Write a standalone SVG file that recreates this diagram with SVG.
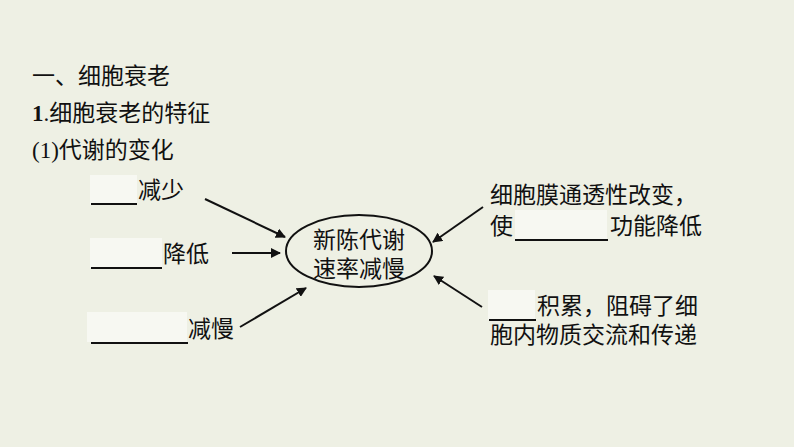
<svg xmlns="http://www.w3.org/2000/svg" width="794" height="447" viewBox="0 0 794 447">
<style>
text{font-family:"Liberation Serif","Noto Sans CJK SC",serif;font-size:23px;fill:#111}
.b{fill:#f7f8f2}
.u{stroke:#111;stroke-width:2}
.c{stroke:#111;stroke-width:2;fill:none;marker-end:url(#ah)}
</style>
<defs><marker id="ah" viewBox="0 0 10 10" refX="9" refY="5" markerWidth="5" markerHeight="5" orient="auto"><path d="M0,0L10,5L0,10z" fill="#111"/></marker></defs>
<rect width="794" height="447" fill="#eef0e4"/>
<g id="headings">
<text x="32" y="84">一、细胞衰老</text>
<text x="32" y="121"><tspan font-weight="bold">1</tspan>.细胞衰老的特征</text>
<text x="32" y="158">(1)代谢的变化</text>
</g>
<g id="n1"><rect class="b" x="90" y="175" width="47" height="30"/><line class="u" x1="91" y1="204" x2="137" y2="204"/><text x="138" y="198">减少</text></g>
<g id="n2"><rect class="b" x="90" y="238" width="72" height="30"/><line class="u" x1="91" y1="268" x2="162" y2="268"/><text x="163" y="262">降低</text></g>
<g id="n3"><rect class="b" x="87" y="312" width="100" height="30"/><line class="u" x1="91" y1="343" x2="188" y2="343"/><text x="188" y="337">减慢</text></g>
<g id="center"><ellipse cx="359" cy="251" rx="73" ry="36" fill="none" stroke="#111" stroke-width="2"/><text x="359" y="248" text-anchor="middle">新陈代谢</text><text x="359" y="277" text-anchor="middle">速率减慢</text></g>
<g id="n4"><text x="490" y="203">细胞膜通透性改变，</text><text x="490" y="234">使</text><rect class="b" x="515" y="210" width="92" height="30"/><line class="u" x1="515" y1="240" x2="608" y2="240"/><text x="610" y="234">功能降低</text></g>
<g id="n5"><rect class="b" x="488" y="290" width="47" height="30"/><line class="u" x1="489" y1="320" x2="536" y2="320"/><text x="537" y="314">积累，阻碍了细</text><text x="490" y="343">胞内物质交流和传递</text></g>
<g id="connectors">
<line class="c" x1="205" y1="199" x2="285" y2="237"/>
<line class="c" x1="232" y1="253" x2="280" y2="253"/>
<line class="c" x1="240" y1="327" x2="306" y2="288"/>
<line class="c" x1="483" y1="207" x2="433" y2="242"/>
<line class="c" x1="482" y1="307" x2="434" y2="276"/>
</g>
</svg>
